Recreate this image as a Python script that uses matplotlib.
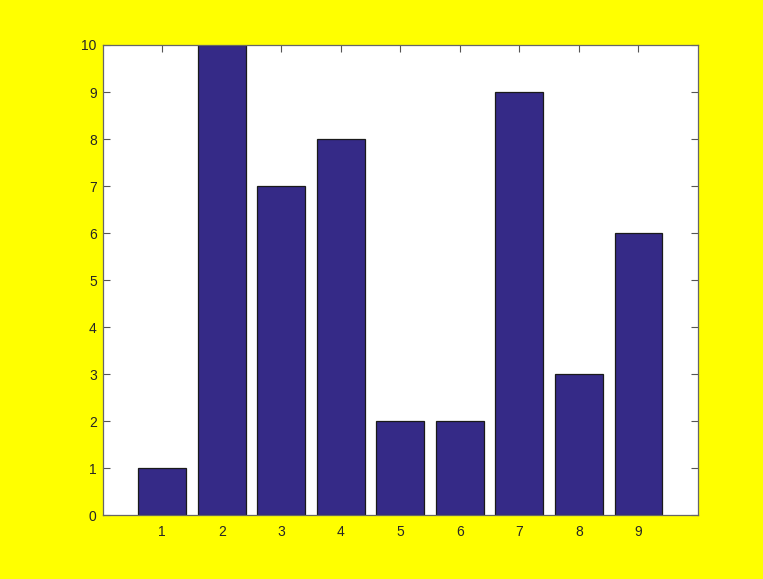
import matplotlib
matplotlib.use("Agg")
import matplotlib.pyplot as plt

categories = [1, 2, 3, 4, 5, 6, 7, 8, 9]
values = [1, 10, 7, 8, 2, 2, 9, 3, 6]
yticks = list(range(0, 11))

plt.rcParams['font.family'] = ['Liberation Sans', 'DejaVu Sans']

fig = plt.figure(figsize=(7.63, 5.79), dpi=100, facecolor='#ffff00')
ax = fig.add_axes([0.1346, 0.110, 0.780, 0.8123])
ax.set_facecolor('white')
ax.bar(categories, values, width=0.8, color='#352a87', edgecolor='#1a1a1a', linewidth=0.9, zorder=2)
ax.set_xlim(0, 10)
ax.set_ylim(0, 10)
ax.set_xticks(categories)
ax.set_yticks(yticks)
ax.tick_params(direction='in', length=5, width=0.8, colors='#555555', labelcolor='#262626',
               labelsize=10, top=True, right=True)
ax.tick_params(axis='y', pad=4.3)
ax.tick_params(axis='x', pad=7)
for s in ax.spines.values():
    s.set_color('#666666')
    s.set_linewidth(0.9)
fig.savefig('out.png', dpi=100, facecolor=fig.get_facecolor())
